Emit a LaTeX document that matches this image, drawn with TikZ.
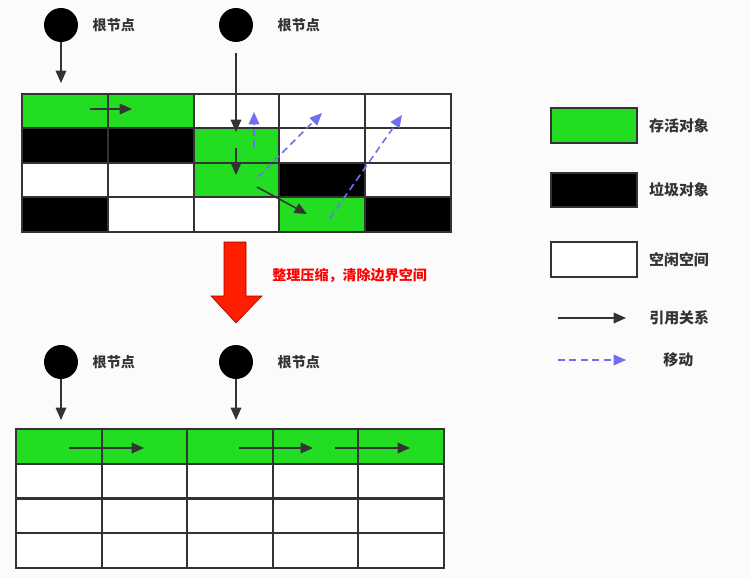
\documentclass[tikz,border=0pt]{standalone}
\usepackage{fontspec}
\setmainfont{Noto Sans CJK SC}
\usetikzlibrary{positioning,arrows.meta}
\definecolor{cg}{RGB}{34,221,34}
\definecolor{cb}{RGB}{0,0,0}
\definecolor{cw}{RGB}{255,255,255}
\definecolor{gridline}{RGB}{51,51,51}
\definecolor{movecol}{RGB}{112,112,238}
\definecolor{redarrow}{RGB}{255,30,0}

\begin{document}
\begin{tikzpicture}[x=0.02cm, y=-0.02cm,
    cell/.style={draw=gridline, line width=1.1pt, minimum width=1.714cm, minimum height=0.692cm, inner sep=0},
    root/.style={circle, fill=black, minimum size=0.68cm, inner sep=0},
    lbl/.style={inner sep=0, text=black!80, font=\fontsize{8}{10}\selectfont\bfseries},
    ref/.style={draw=black!80, line width=0.9pt, -{Triangle[length=7pt,width=6pt]}},
    move/.style={draw=movecol, line width=0.9pt, dash pattern=on 4pt off 2.5pt, -{Triangle[length=7pt,width=6pt]}}]
    % Background and page size
    \fill[gray!3] (0,0) rectangle (750,578);
    \useasboundingbox (0,0) rectangle (750,578);

    % Memory before compaction
    \foreach \r/\cols in {0/{g,g,w,w,w},1/{b,b,g,w,w},2/{w,w,g,b,w},3/{b,w,w,g,b}} {
      \foreach \k [count=\c from 0] in \cols {
        \node[cell, fill=c\k] (t-\r-\c) at (64.9+85.8*\c, 111.25+34.5*\r) {};
      }
    }

    % Root nodes (top)
    \node[root] (rt1) at (61,25) {};
    \node[lbl, right=0.28cm of rt1] (lt1) {根节点};
    \node[root] (rt2) at (236,25) {};
    \node[lbl, right=0.48cm of rt2] (lt2) {根节点};

    % References (top)
    \coordinate (e1) at (61,83);
    \coordinate (e2) at (236,132);
    \draw[ref] (rt1) -- (e1);
    \draw[ref, shorten <=0.22cm] (rt2) -- (e2);
    \coordinate (a1) at (90,109);
    \coordinate (a2) at (132,109);
    \coordinate (a3) at (236,148);
    \coordinate (a4) at (236,175);
    \coordinate (a5) at (257,187);
    \coordinate (a6) at (307,214);
    \draw[ref] (a1) -- (a2);
    \draw[ref] (a3) -- (a4);
    \draw[ref] (a5) -- (a6);

    % Moves
    \coordinate (m1) at (254,147);
    \coordinate (m2) at (254,112);
    \coordinate (m3) at (258,177);
    \coordinate (m4) at (322,113);
    \coordinate (m5) at (330,218);
    \coordinate (m6) at (402,115);
    \draw[move] (m1) -- (m2);
    \draw[move] (m3) -- (m4);
    \draw[move] (m5) -- (m6);

    % Big red arrow
    \fill[redarrow, draw=red!60!black, line width=0.3pt] (224,242) -- (246,242) -- (246,296) -- (262,296) -- (236,323) -- (211,296) -- (224,296) -- cycle;
    \node[lbl, text=red, anchor=west] (note) at (272,275) {整理压缩，清除边界空间};

    % Memory after compaction
    \foreach \c in {0,...,4} {
      \node[cell, fill=cg] (b-0-\c) at (58.8+85.6*\c, 446.4) {};
    }
    \foreach \r in {1,2,3} {
      \foreach \c in {0,...,4} {
        \node[cell, fill=cw] (b-\r-\c) at (58.8+85.6*\c, 446.4+34.75*\r) {};
      }
    }

    % Root nodes (bottom)
    \node[root] (rb1) at (61,362) {};
    \node[lbl, right=0.28cm of rb1] (lb1) {根节点};
    \node[root] (rb2) at (236,362) {};
    \node[lbl, right=0.48cm of rb2] (lb2) {根节点};

    % References (bottom)
    \coordinate (f1) at (61,420);
    \coordinate (f2) at (236,420);
    \draw[ref] (rb1) -- (f1);
    \draw[ref] (rb2) -- (f2);
    \coordinate (g1) at (69,448);
    \coordinate (g2) at (144,448);
    \coordinate (g3) at (239,448);
    \coordinate (g4) at (313,448);
    \coordinate (g5) at (335,448);
    \coordinate (g6) at (410,448);
    \draw[ref] (g1) -- (g2);
    \draw[ref] (g3) -- (g4);
    \draw[ref] (g5) -- (g6);

    % Legend
    \node[cell, fill=cg] (kg) at (594,125.5) {};
    \node[lbl, right=0.22cm of kg, font=\fontsize{8.5}{10}\selectfont\bfseries] (kgt) {存活对象};
    \node[cell, fill=cb] (kb) at (594,190) {};
    \node[lbl, right=0.22cm of kb, font=\fontsize{8.5}{10}\selectfont\bfseries] (kbt) {垃圾对象};
    \node[cell, fill=cw] (kw) at (594,259.5) {};
    \node[lbl, right=0.22cm of kw, font=\fontsize{8.5}{10}\selectfont\bfseries] (kwt) {空闲空间};
    \coordinate (k1) at (558,318);
    \coordinate (k2) at (626,318);
    \draw[ref] (k1) -- (k2);
    \node[lbl, right=0.46cm of k2, font=\fontsize{8.5}{10}\selectfont\bfseries] (krt) {引用关系};
    \coordinate (k3) at (558,360);
    \coordinate (k4) at (626,360);
    \draw[move] (k3) -- (k4);
    \node[lbl, right=0.74cm of k4, font=\fontsize{8.5}{10}\selectfont\bfseries] (kmt) {移动};
  \end{tikzpicture}
\end{document}
